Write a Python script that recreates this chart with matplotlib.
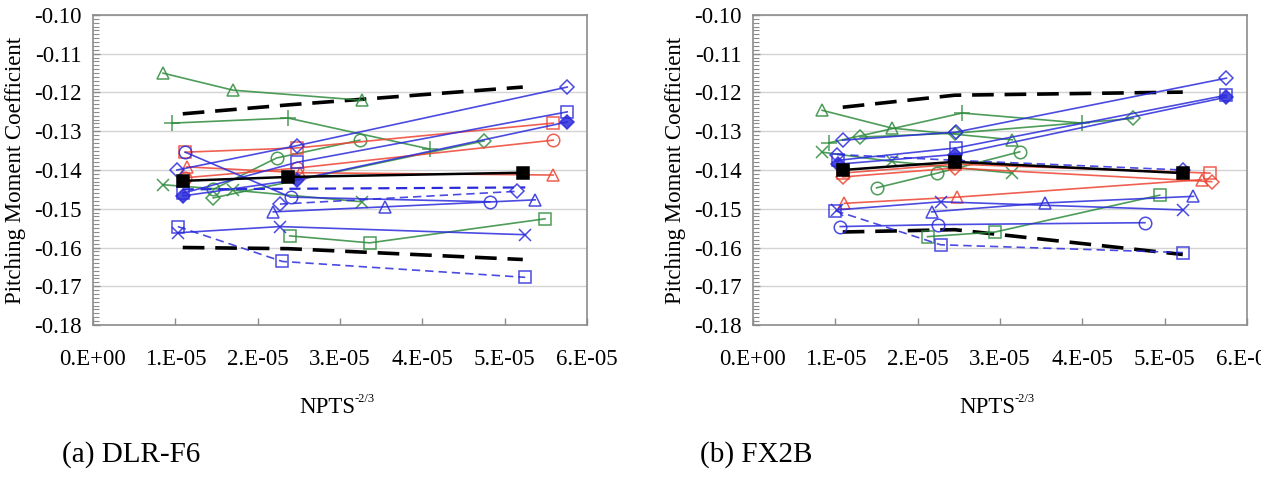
import matplotlib

matplotlib.use("Agg")

import matplotlib.pyplot as plt
from matplotlib.ticker import MultipleLocator, FuncFormatter

GREEN = "#2e8b3c"
BLUE = "#2b2bdc"
RED = "#ee4433"
BLACK = "#000000"

# ---- (a) DLR-F6 ----------------------------------------------------------
A_BLACK_SQ_X = [1.09e-5, 2.37e-5, 5.22e-5]
A_BLACK_SQ_Y = [-0.1428, -0.1418, -0.1407]
A_DASH_HI_X = [1.09e-5, 2.37e-5, 5.22e-5]
A_DASH_HI_Y = [-0.1255, -0.1232, -0.1186]
A_DASH_LO_X = [1.09e-5, 2.37e-5, 5.22e-5]
A_DASH_LO_Y = [-0.1600, -0.1603, -0.1631]
A_GREEN_TRI_X = [0.85e-5, 1.70e-5, 3.27e-5]
A_GREEN_TRI_Y = [-0.1150, -0.1194, -0.1220]
A_GREEN_PLUS_X = [0.96e-5, 2.37e-5, 4.09e-5]
A_GREEN_PLUS_Y = [-0.1279, -0.1266, -0.1346]
A_GREEN_X_X = [0.85e-5, 1.70e-5, 3.27e-5]
A_GREEN_X_Y = [-0.1438, -0.1452, -0.1482]
A_GREEN_DIAM_X = [1.46e-5, 4.75e-5]
A_GREEN_DIAM_Y = [-0.1472, -0.1325]
A_GREEN_CIRC_X = [1.46e-5, 2.23e-5, 3.24e-5]
A_GREEN_CIRC_Y = [-0.1450, -0.1369, -0.1323]
A_GREEN_SQ_X = [2.39e-5, 3.36e-5, 5.49e-5]
A_GREEN_SQ_Y = [-0.1570, -0.1588, -0.1526]
A_RED_SQ_X = [1.12e-5, 2.48e-5, 5.59e-5]
A_RED_SQ_Y = [-0.1354, -0.1343, -0.1279]
A_RED_TRI_X = [1.14e-5, 2.52e-5, 5.59e-5]
A_RED_TRI_Y = [-0.1392, -0.1407, -0.1413]
A_RED_CIRC_X = [1.12e-5, 2.48e-5, 5.59e-5]
A_RED_CIRC_Y = [-0.1420, -0.1395, -0.1323]
A_BLUE_FDIAM_X = [1.09e-5, 2.48e-5, 5.76e-5]
A_BLUE_FDIAM_Y = [-0.1467, -0.1425, -0.1276]
A_BLUE_DIAM_X = [1.02e-5, 2.48e-5, 5.76e-5]
A_BLUE_DIAM_Y = [-0.1400, -0.1337, -0.1186]
A_BLUE_SQ_X = [1.09e-5, 2.48e-5, 5.76e-5]
A_BLUE_SQ_Y = [-0.1460, -0.1380, -0.1250]
A_BLUE_TRI_X = [2.19e-5, 3.55e-5, 5.37e-5]
A_BLUE_TRI_Y = [-0.1508, -0.1495, -0.1477]
A_BLUE_X_X = [1.03e-5, 2.27e-5, 5.25e-5]
A_BLUE_X_Y = [-0.1562, -0.1546, -0.1567]
A_BLUE_DSQ_X = [1.03e-5, 2.30e-5, 5.25e-5]
A_BLUE_DSQ_Y = [-0.1546, -0.1636, -0.1677]
A_BLUE_CIRC_X = [1.12e-5, 2.40e-5, 4.82e-5]
A_BLUE_CIRC_Y = [-0.1354, -0.1470, -0.1482]
A_BLUE_DDIAM_X = [2.27e-5, 5.15e-5]
A_BLUE_DDIAM_Y = [-0.1488, -0.1455]
A_BLUE_LINE_X = [1.09e-5, 5.25e-5]
A_BLUE_LINE_Y = [-0.1450, -0.1445]

# ---- (b) FX2B -------------------------------------------------------------
B_BLACK_SQ_X = [1.09e-5, 2.45e-5, 5.22e-5]
B_BLACK_SQ_Y = [-0.1400, -0.1379, -0.1408]
B_DASH_HI_X = [1.09e-5, 2.45e-5, 5.22e-5]
B_DASH_HI_Y = [-0.1238, -0.1207, -0.1199]
B_DASH_LO_X = [1.09e-5, 2.45e-5, 5.22e-5]
B_DASH_LO_Y = [-0.1560, -0.1554, -0.1618]
B_GREEN_TRI_X = [0.84e-5, 1.69e-5, 3.15e-5]
B_GREEN_TRI_Y = [-0.1246, -0.1292, -0.1322]
B_GREEN_PLUS_X = [0.92e-5, 2.54e-5, 4.00e-5]
B_GREEN_PLUS_Y = [-0.1330, -0.1253, -0.1279]
B_GREEN_DIAM_X = [1.30e-5, 2.45e-5, 4.62e-5]
B_GREEN_DIAM_Y = [-0.1315, -0.1305, -0.1267]
B_GREEN_X_X = [0.84e-5, 1.69e-5, 3.15e-5]
B_GREEN_X_Y = [-0.1354, -0.1378, -0.1408]
B_GREEN_CIRC_X = [1.50e-5, 2.24e-5, 3.24e-5]
B_GREEN_CIRC_Y = [-0.1446, -0.1408, -0.1353]
B_GREEN_SQ_X = [2.12e-5, 2.94e-5, 4.94e-5]
B_GREEN_SQ_Y = [-0.1572, -0.1560, -0.1465]
B_RED_SQ_X = [1.09e-5, 2.45e-5, 5.55e-5]
B_RED_SQ_Y = [-0.1408, -0.1385, -0.1408]
B_RED_DIAM_X = [1.09e-5, 2.45e-5, 5.57e-5]
B_RED_DIAM_Y = [-0.1418, -0.1395, -0.1430]
B_RED_TRI_X = [1.11e-5, 2.48e-5, 5.45e-5]
B_RED_TRI_Y = [-0.1486, -0.1470, -0.1425]
B_BLUE_DIAM_X = [1.09e-5, 2.47e-5, 5.75e-5]
B_BLUE_DIAM_Y = [-0.1323, -0.1302, -0.1163]
B_BLUE_FDIAM_X = [1.03e-5, 2.45e-5, 5.75e-5]
B_BLUE_FDIAM_Y = [-0.1385, -0.1360, -0.1212]
B_BLUE_SQ_X = [1.03e-5, 2.47e-5, 5.75e-5]
B_BLUE_SQ_Y = [-0.1375, -0.1343, -0.1207]
B_BLUE_TRI_X = [2.17e-5, 3.55e-5, 5.35e-5]
B_BLUE_TRI_Y = [-0.1508, -0.1485, -0.1468]
B_BLUE_X_X = [1.02e-5, 2.28e-5, 5.22e-5]
B_BLUE_X_Y = [-0.1503, -0.1482, -0.1503]
B_BLUE_CIRC_X = [1.06e-5, 2.25e-5, 4.76e-5]
B_BLUE_CIRC_Y = [-0.1546, -0.1541, -0.1536]
B_BLUE_DSQ_X = [1.00e-5, 2.28e-5, 5.22e-5]
B_BLUE_DSQ_Y = [-0.1505, -0.1593, -0.1613]
B_BLUE_DDIAM_X = [1.02e-5, 2.45e-5, 5.22e-5]
B_BLUE_DDIAM_Y = [-0.1360, -0.1375, -0.1400]

TICK_FONT = 16.5


def series_a():
    return [
        (A_DASH_HI_X, A_DASH_HI_Y, BLACK, None, "--", True),
        (A_DASH_LO_X, A_DASH_LO_Y, BLACK, None, "--", True),
        (A_GREEN_TRI_X, A_GREEN_TRI_Y, GREEN, "^", "-", False),
        (A_GREEN_PLUS_X, A_GREEN_PLUS_Y, GREEN, "+", "-", False),
        (A_GREEN_X_X, A_GREEN_X_Y, GREEN, "x", "-", False),
        (A_GREEN_DIAM_X, A_GREEN_DIAM_Y, GREEN, "D", "-", False),
        (A_GREEN_CIRC_X, A_GREEN_CIRC_Y, GREEN, "o", "-", False),
        (A_GREEN_SQ_X, A_GREEN_SQ_Y, GREEN, "s", "-", False),
        (A_RED_SQ_X, A_RED_SQ_Y, RED, "s", "-", False),
        (A_RED_TRI_X, A_RED_TRI_Y, RED, "^", "-", False),
        (A_RED_CIRC_X, A_RED_CIRC_Y, RED, "o", "-", False),
        (A_BLUE_DIAM_X, A_BLUE_DIAM_Y, BLUE, "D", "-", False),
        (A_BLUE_SQ_X, A_BLUE_SQ_Y, BLUE, "s", "-", False),
        (A_BLUE_TRI_X, A_BLUE_TRI_Y, BLUE, "^", "-", False),
        (A_BLUE_X_X, A_BLUE_X_Y, BLUE, "x", "-", False),
        (A_BLUE_DSQ_X, A_BLUE_DSQ_Y, BLUE, "s", "--", False),
        (A_BLUE_CIRC_X, A_BLUE_CIRC_Y, BLUE, "o", "-", False),
        (A_BLUE_DDIAM_X, A_BLUE_DDIAM_Y, BLUE, "D", "--", False),
        (A_BLUE_LINE_X, A_BLUE_LINE_Y, BLUE, None, "-", False),
        (A_BLUE_FDIAM_X, A_BLUE_FDIAM_Y, BLUE, "D", "-", True),
        (A_BLACK_SQ_X, A_BLACK_SQ_Y, BLACK, "s", "-", True),
    ]


def series_b():
    return [
        (B_DASH_HI_X, B_DASH_HI_Y, BLACK, None, "--", True),
        (B_DASH_LO_X, B_DASH_LO_Y, BLACK, None, "--", True),
        (B_GREEN_TRI_X, B_GREEN_TRI_Y, GREEN, "^", "-", False),
        (B_GREEN_PLUS_X, B_GREEN_PLUS_Y, GREEN, "+", "-", False),
        (B_GREEN_DIAM_X, B_GREEN_DIAM_Y, GREEN, "D", "-", False),
        (B_GREEN_X_X, B_GREEN_X_Y, GREEN, "x", "-", False),
        (B_GREEN_CIRC_X, B_GREEN_CIRC_Y, GREEN, "o", "-", False),
        (B_GREEN_SQ_X, B_GREEN_SQ_Y, GREEN, "s", "-", False),
        (B_RED_SQ_X, B_RED_SQ_Y, RED, "s", "-", False),
        (B_RED_DIAM_X, B_RED_DIAM_Y, RED, "D", "-", False),
        (B_RED_TRI_X, B_RED_TRI_Y, RED, "^", "-", False),
        (B_BLUE_DIAM_X, B_BLUE_DIAM_Y, BLUE, "D", "-", False),
        (B_BLUE_SQ_X, B_BLUE_SQ_Y, BLUE, "s", "-", False),
        (B_BLUE_TRI_X, B_BLUE_TRI_Y, BLUE, "^", "-", False),
        (B_BLUE_X_X, B_BLUE_X_Y, BLUE, "x", "-", False),
        (B_BLUE_CIRC_X, B_BLUE_CIRC_Y, BLUE, "o", "-", False),
        (B_BLUE_DSQ_X, B_BLUE_DSQ_Y, BLUE, "s", "--", False),
        (B_BLUE_DDIAM_X, B_BLUE_DDIAM_Y, BLUE, "D", "--", False),
        (B_BLUE_FDIAM_X, B_BLUE_FDIAM_Y, BLUE, "D", "-", True),
        (B_BLACK_SQ_X, B_BLACK_SQ_Y, BLACK, "s", "-", True),
    ]


def draw_series(ax, series):
    for xs, ys, color, marker, ls, filled in series:
        if marker is None:
            ax.plot(xs, ys, color=color, ls=ls, lw=2.6 if color == BLACK else 1.6,
                    dashes=(6, 3) if color == BLACK else (5, 3))
            continue
        heavy = color == BLACK
        size = {"D": 7, "s": 8.5, "^": 9, "o": 9, "x": 9, "+": 11}[marker]
        kw = dict(color=color, ls=ls, lw=1.8 if heavy else 1.2, marker=marker,
                  markersize=size, markeredgewidth=1.1, alpha=1.0 if heavy else 0.85)
        if ls == "--":
            kw["dashes"] = (5, 3)
        kw["markerfacecolor"] = color if filled else "none"
        ax.plot(xs, ys, **kw)


def sci_label(value, _pos):
    if abs(value) < 1e-12:
        return "0.E+00"
    return f"{value / 1e-5:.0f}.E-05"


def style_axes(ax):
    ax.set_xlim(0, 6e-5)
    ax.set_ylim(-0.18, -0.10)
    ax.xaxis.set_major_locator(MultipleLocator(1e-5))
    ax.xaxis.set_major_formatter(FuncFormatter(sci_label))
    ax.yaxis.set_major_locator(MultipleLocator(0.01))
    ax.yaxis.set_minor_locator(MultipleLocator(0.001))
    ax.yaxis.set_major_formatter(FuncFormatter(lambda v, _p: f"{v:.2f}"))
    ax.grid(axis="y", which="major", color="#d4d4d4", lw=1.0)
    ax.set_axisbelow(True)
    for spine in ax.spines.values():
        spine.set_color("#8c8c8c")
        spine.set_linewidth(1.2)
    ax.tick_params(axis="x", direction="in", length=5, width=1, color="#8c8c8c",
                   labelsize=TICK_FONT, pad=17, top=False)
    ax.tick_params(axis="y", which="major", direction="in", length=5, width=1,
                   color="#8c8c8c", labelsize=TICK_FONT, pad=8, right=False)
    ax.tick_params(axis="y", which="minor", direction="in", length=4, width=0.8,
                   color="#8c8c8c", right=False)
    ax.set_ylabel("Pitching Moment Coefficient", fontsize=TICK_FONT, labelpad=6)
    # x label: "NPTS" with a small raised "-2/3"
    ax.text(0.53, -0.265, "NPTS", transform=ax.transAxes, ha="right", va="center",
            fontsize=TICK_FONT)
    ax.text(0.53, -0.238, "-2/3", transform=ax.transAxes, ha="left", va="center",
            fontsize=9)


plt.rcParams["font.family"] = ["Liberation Serif", "DejaVu Serif"]

fig = plt.figure(figsize=(12.61, 4.80), dpi=100)
ax_a = fig.add_axes([93 / 1261, 155 / 480, 494 / 1261, 310 / 480])
ax_b = fig.add_axes([753 / 1261, 155 / 480, 494 / 1261, 310 / 480])

draw_series(ax_a, series_a())
draw_series(ax_b, series_b())
style_axes(ax_a)
style_axes(ax_b)

fig.text(62 / 1261, 1 - 455 / 480, "(a) DLR-F6", fontsize=21, va="center", ha="left")
fig.text(700 / 1261, 1 - 455 / 480, "(b) FX2B", fontsize=21, va="center", ha="left")

fig.savefig("out.png", dpi=100)
